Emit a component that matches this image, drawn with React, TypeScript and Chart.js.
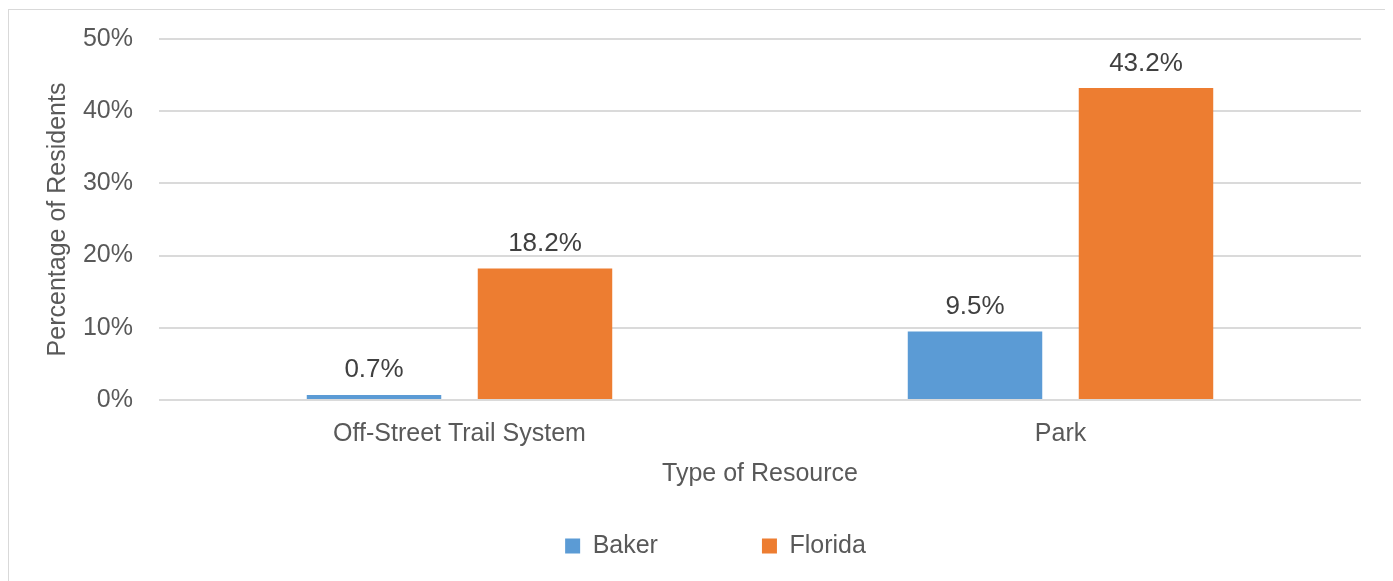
import React, { useEffect, useRef } from "react";
import { Chart, registerables } from "chart.js";

Chart.register(...registerables);

const categories = ["Off-Street Trail System", "Park"];
const seriesNames = ["Baker", "Florida"];
const bakerValues = [0.7, 9.5];
const floridaValues = [18.2, 43.2];
const seriesColors = ["#5B9BD5", "#ED7D31"];
const yTicks = [0, 10, 20, 30, 40, 50];
const xTitle = "Type of Resource";
const yTitle = "Percentage of Residents";

const FONT = "'Liberation Sans', Arial, sans-serif";
const FS = 25;

const valueLabels = {
  id: "valueLabels",
  afterDatasetsDraw(chart: any) {
    const ctx = chart.ctx;
    ctx.save();
    ctx.font = `26px ${FONT}`;
    ctx.fillStyle = "#404040";
    ctx.textAlign = "center";
    ctx.textBaseline = "alphabetic";
    chart.data.datasets.forEach((ds: any, i: number) => {
      const meta = chart.getDatasetMeta(i);
      meta.data.forEach((bar: any, j: number) => {
        const v = ds.data[j] as number;
        ctx.fillText(v.toFixed(1) + "%", bar.x, bar.y - 17.5);
      });
    });
    ctx.restore();
  },
};

export default function App() {
  const ref = useRef<HTMLCanvasElement | null>(null);

  useEffect(() => {
    if (!ref.current) return;
    Chart.defaults.font.family = FONT;
    const chart = new Chart(ref.current, {
      type: "bar",
      data: {
        labels: categories,
        datasets: [
          {
            label: seriesNames[0],
            data: bakerValues,
            backgroundColor: seriesColors[0],
            borderWidth: 0,
            categoryPercentage: 0.569,
            barPercentage: 0.7865,
          },
          {
            label: seriesNames[1],
            data: floridaValues,
            backgroundColor: seriesColors[1],
            borderWidth: 0,
            categoryPercentage: 0.569,
            barPercentage: 0.7865,
          },
        ],
      },
      options: {
        responsive: false,
        animation: false,
        events: [],
        layout: {
          padding: { left: 61, right: 29, top: 29, bottom: 41.5 },
        },
        plugins: {
          tooltip: { enabled: false },
          legend: {
            display: true,
            position: "bottom",
            labels: {
              boxWidth: 15,
              boxHeight: 15,
              padding: 104,
              color: "#595959",
              font: { size: FS, family: FONT },
            },
          },
        },
        scales: {
          x: {
            grid: { display: false },
            border: { display: false },
            ticks: {
              color: "#595959",
              font: { size: FS, family: FONT },
              mirror: true,
              padding: -49.5,
              maxRotation: 0,
              autoSkip: false,
            },
            title: {
              display: true,
              text: xTitle,
              color: "#595959",
              font: { size: FS, family: FONT },
              padding: { top: 0, bottom: -59.5 },
            },
            afterFit(scale: any) {
              scale.height = 29.5;
            },
          },
          y: {
            min: yTicks[0],
            max: yTicks[yTicks.length - 1],
            grid: {
              color: "#dadada",
              lineWidth: 2,
              drawTicks: true,
              tickLength: 26,
              tickColor: "rgba(0,0,0,0)",
            },
            border: { display: false },
            ticks: {
              stepSize: yTicks[1] - yTicks[0],
              color: "#595959",
              font: { size: FS, family: FONT },
              padding: 0,
              callback: (v: any) => v + "%",
            },
            title: {
              display: true,
              text: yTitle,
              color: "#595959",
              font: { size: FS, family: FONT },
              padding: { top: -27, bottom: 0 },
            },
            afterFit(scale: any) {
              scale.width = 89;
            },
          },
        },
      },
      plugins: [valueLabels],
    });
    return () => chart.destroy();
  }, []);

  return (
    <>
      <style>{`html,body{overflow:hidden;}`}</style>
      <div
        style={{
          border: "1px solid #d9d9d9",
          marginTop: 1,
          width: 1381,
          height: 600,
          boxSizing: "content-box",
          overflow: "hidden",
          background: "#ffffff",
        }}
      >
        <canvas ref={ref} width={1381} height={600} style={{ display: "block" }} />
      </div>
    </>
  );
}
